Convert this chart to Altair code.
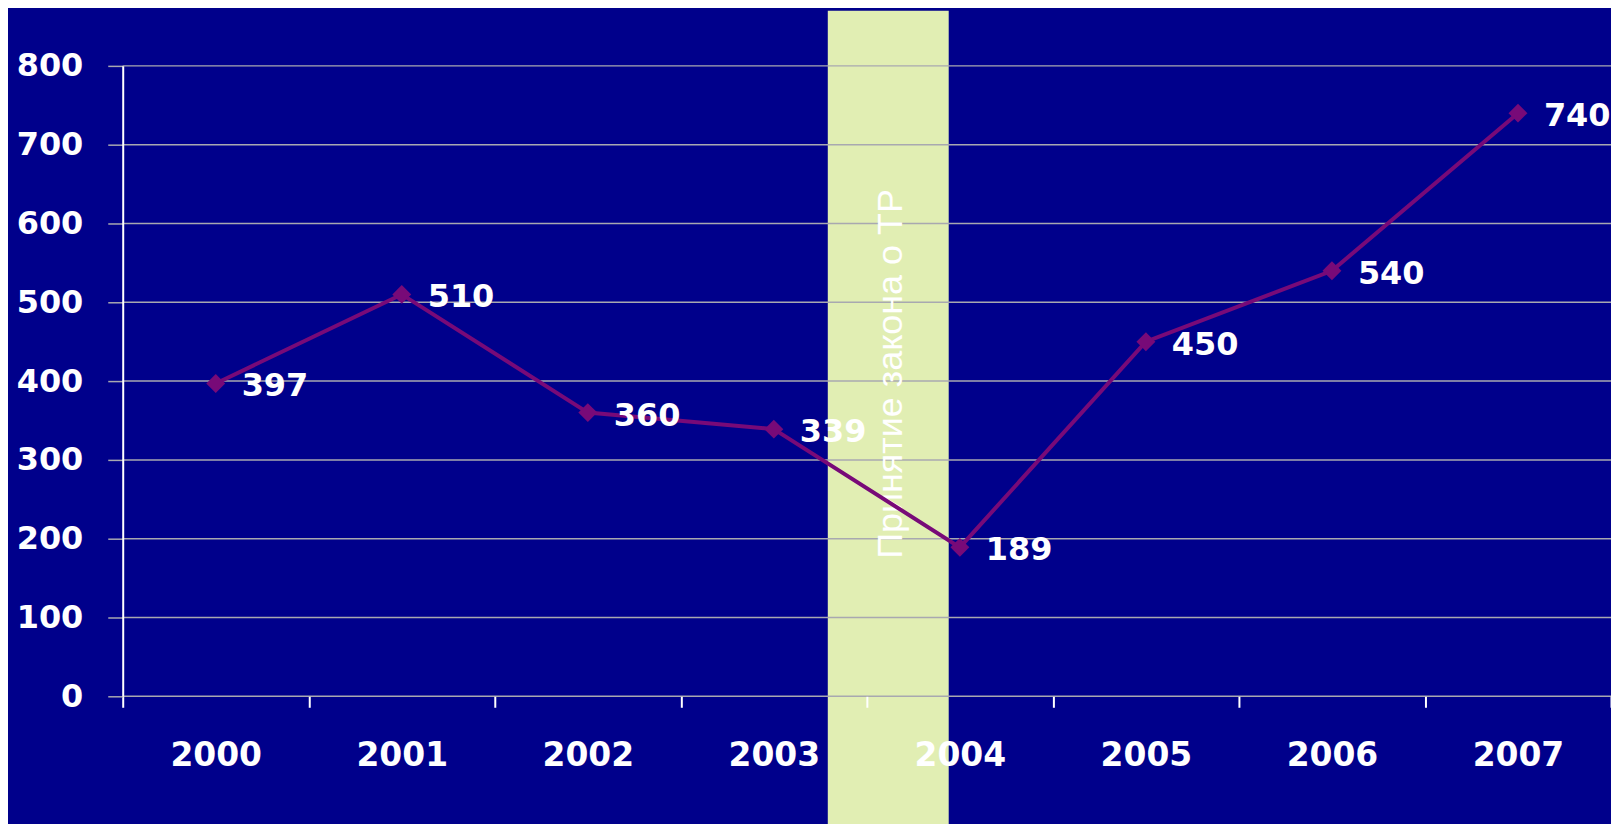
import altair as alt
import pandas as pd

years = ["2000", "2001", "2002", "2003", "2004", "2005", "2006", "2007"]
values = [397, 510, 360, 339, 189, 450, 540, 740]
y_ticks = [0, 100, 200, 300, 400, 500, 600, 700, 800]

# highlight band (in category-position units: 0 = left edge of 2000, 8 = right edge of 2007)
hl_start = [3.79]
hl_end = [4.44]
hl_low = [-170]
hl_high = [870]
hl_text = ["Принятие закона о ТР"]
hl_text_pos = [4.13]
hl_text_value = [409]

FONT = "DejaVu Sans"
TFONT = "Liberation Sans"
LINE_COLOR = "#780A78"

df = pd.DataFrame({"year": years, "value": values})
grid_df = pd.DataFrame({"v": y_ticks})
hl_df = pd.DataFrame({"x0": hl_start, "x1": hl_end, "y0": hl_low, "y1": hl_high})
txt_df = pd.DataFrame({"x": hl_text_pos, "y": hl_text_value, "t": hl_text})

yscale = alt.Scale(domain=[0, 800], nice=False, zero=True)
xq = alt.Scale(domain=[0, 8], nice=False, zero=False)
xband = alt.Scale(type="band", domain=years, paddingInner=0, paddingOuter=0)

y_axis = alt.Axis(
    title=None, values=y_ticks, grid=False, domainColor="white",
    domainWidth=2, tickColor="#A8A8B0", tickSize=15, tickWidth=1.5,
    labelFont=FONT, labelFontSize=32, labelFontWeight="bold",
    labelColor="white", labelPadding=25, zindex=1,
)
x_axis = alt.Axis(
    title=None, labelAngle=0, tickBand="extent", labelFont=FONT,
    labelFontSize=33, labelFontWeight="bold", labelColor="white",
    tickColor="white", tickSize=11, tickWidth=2, domain=False,
    labelPadding=32, grid=False, zindex=1,
)

rect = alt.Chart(hl_df).mark_rect(color="#E1EEB3").encode(
    x=alt.X("x0:Q", scale=xq, axis=None),
    x2="x1",
    y=alt.Y("y0:Q", scale=yscale, axis=y_axis),
    y2="y1",
)

grid = alt.Chart(grid_df).mark_rule(color="#A8A8B0", strokeWidth=1.5).encode(
    y=alt.Y("v:Q", scale=yscale, axis=y_axis)
)

txt = alt.Chart(txt_df).mark_text(
    angle=270, align="center", baseline="middle", fontSize=36,
    font=TFONT, color="white"
).encode(
    x=alt.X("x:Q", scale=xq, axis=None),
    y=alt.Y("y:Q", scale=yscale, axis=y_axis),
    text="t:N",
)

line = alt.Chart(df).mark_line(color=LINE_COLOR, strokeWidth=4).encode(
    x=alt.X("year:O", scale=xband, axis=x_axis),
    y=alt.Y("value:Q", scale=yscale, axis=y_axis),
)

pts = alt.Chart(df).mark_point(
    shape="diamond", filled=True, size=360, color=LINE_COLOR, opacity=1
).encode(
    x=alt.X("year:O", scale=xband, axis=None),
    y=alt.Y("value:Q", scale=yscale, axis=y_axis),
)

labels = alt.Chart(df).mark_text(
    align="left", baseline="middle", dx=26, dy=3, fontSize=32,
    fontWeight="bold", font=FONT, color="white"
).encode(
    x=alt.X("year:O", scale=xband, axis=None),
    y=alt.Y("value:Q", scale=yscale, axis=y_axis),
    text="value:Q",
)

chart = alt.layer(rect, grid, txt, line, pts, labels).resolve_scale(
    x="independent"
).properties(
    width=1492,
    height=632,
    background="#00008B",
    padding={"left": 115, "top": 57, "right": 0, "bottom": 127},
    autosize=alt.AutoSizeParams(type="none"),
).configure_view(stroke=None)

chart.save("out.html", embed_options={"renderer": "svg", "actions": False})
